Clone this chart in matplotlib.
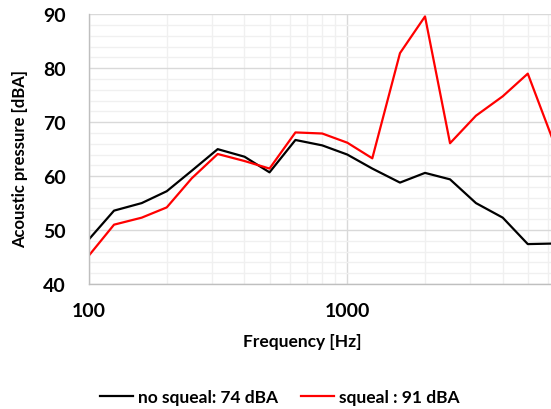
import numpy as np
import matplotlib
matplotlib.use("Agg")
import matplotlib.pyplot as plt
from matplotlib.ticker import FixedLocator, NullFormatter, FixedFormatter

# third-octave band centres [Hz]
freq = [100, 125, 160, 200, 250, 315, 400, 500, 630, 800, 1000,
        1250, 1600, 2000, 2500, 3150, 4000, 5000, 6300]
no_squeal = [48.3, 53.6, 55.0, 57.2, 61.0, 65.0, 63.6, 60.7, 66.7, 65.7, 64.0,
             61.4, 58.8, 60.6, 59.4, 55.0, 52.3, 47.4, 47.5]
squeal = [45.3, 51.0, 52.3, 54.2, 59.6, 64.1, 62.8, 61.4, 68.1, 67.9, 66.2,
          63.3, 82.8, 89.6, 66.1, 71.2, 74.8, 79.0, 66.3]
labels = ["no squeal: 74 dBA", "squeal : 91 dBA"]

plt.rcParams['font.family'] = ['Lato', 'DejaVu Sans']

fig = plt.figure(figsize=(5.51, 4.10), dpi=100)
ax = fig.add_axes([89 / 551, 1 - 285 / 410, 1 - 89 / 551, (285 - 15.3) / 410])

ax.plot(freq, no_squeal, color="black", lw=1.6, label=labels[0])
ax.plot(freq, squeal, color="#ff0000", lw=1.6, label=labels[1])

ax.set_xscale("log")
ax.set_xlim(100, 6150)
ax.set_ylim(40, 90)

ax.xaxis.set_major_locator(FixedLocator([100, 1000]))
ax.xaxis.set_major_formatter(FixedFormatter(["100", "1000"]))
ax.xaxis.set_minor_locator(FixedLocator([200, 300, 400, 500, 600, 700, 800, 900,
                                         2000, 3000, 4000, 5000, 6000]))
ax.xaxis.set_minor_formatter(NullFormatter())
ax.set_yticks(np.arange(40, 91, 10))
ax.set_yticks(np.arange(40, 91, 2), minor=True)

ax.grid(which="major", color="#d9d9d9", lw=1.0)
ax.grid(which="minor", color="#f0f0f0", lw=1.0)
ax.set_axisbelow(True)

ax.tick_params(which="both", length=0)
ax.tick_params(axis="y", pad=17, labelsize=14)
ax.tick_params(axis="x", pad=13, labelsize=14)
for t in ax.get_xticklabels() + ax.get_yticklabels():
    t.set_fontweight("bold")

for s in ["top", "right"]:
    ax.spines[s].set_visible(False)
for s in ["left", "bottom"]:
    ax.spines[s].set_color("#bfbfbf")
    ax.spines[s].set_linewidth(1.0)

ax.set_xlabel("Frequency [Hz]", fontsize=12.5, fontweight="bold", va="center")
ax.xaxis.set_label_coords((302 - 89) / 462, -(342 - 285) / 270)
ax.set_ylabel("Acoustic pressure [dBA]", fontsize=12, fontweight="bold", va="center")
ax.yaxis.set_label_coords(-(89 - 20) / 462, 1 - (159 - 15) / 270)

fig.legend(loc="center", bbox_to_anchor=(280 / 551, 1 - 398 / 410), ncol=2,
           frameon=False, prop={"weight": "bold", "size": 12.5},
           handlelength=1.9, columnspacing=1.3, handletextpad=0.3)

fig.savefig("out.png", dpi=100)
